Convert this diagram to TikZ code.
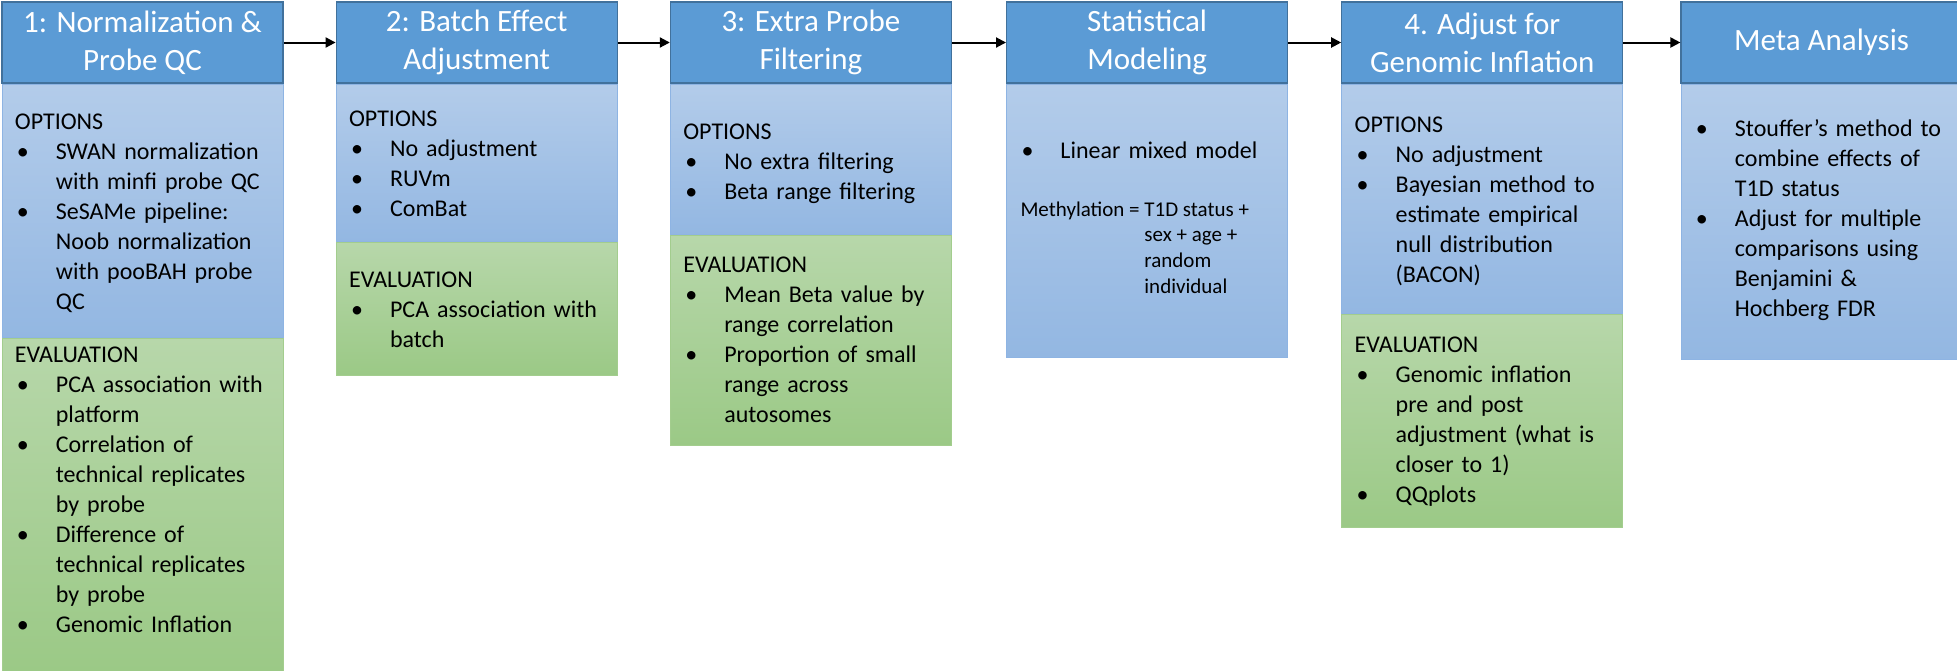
\documentclass[tikz,border=0pt]{standalone}
\usepackage{fontspec}
\setmainfont{Carlito}
\usetikzlibrary{arrows.meta, positioning}
\definecolor{headBlue}{HTML}{5B9BD5}
\definecolor{headEdge}{HTML}{41719C}
\definecolor{optTop}{HTML}{B3CCEA}
\definecolor{optBot}{HTML}{93B7E2}
\definecolor{optEdge}{HTML}{8EB4E3}
\definecolor{evalTop}{HTML}{B7D7AA}
\definecolor{evalBot}{HTML}{9BC986}
\definecolor{evalEdge}{HTML}{A3CD8E}
\newcommand{\bitem}[1]{\noindent\hangindent=20.5pt\hangafter=1\hbox to 20.5pt{\hskip1pt\textbullet\hfil}#1\par}

\begin{document}
\begin{tikzpicture}[
    x=0.5pt, y=-0.5pt,
    node distance=26pt,
    head/.style={rectangle, draw=headEdge, fill=headBlue, line width=0.6pt,
                 minimum width=140.5pt, minimum height=40.5pt, inner sep=2pt,
                 font=\fontsize{15.5}{19}\selectfont, text=white, align=center},
    opts/.style={rectangle, draw=optEdge, top color=optTop, bottom color=optBot,
                 line width=0.5pt, minimum width=140.5pt, inner sep=0pt},
    evals/.style={rectangle, draw=evalEdge, top color=evalTop, bottom color=evalBot,
                  line width=0.5pt, minimum width=140.5pt, inner sep=0pt},
    body/.style={anchor=base west, inner sep=0pt, text width=140pt, align=left,
                 font=\fontsize{12}{15}\selectfont},
    flow/.style={-{Triangle[length=5pt,width=5pt]}, line width=1pt},
  ]
    \useasboundingbox (0,0) rectangle (1957,670);

    % step headers
    \node[head] (h1) at (142.5,42.5) {1: Normalization \&\\Probe QC};
    \node[head, right=26pt of h1] (h2) {2: Batch Effect\\Adjustment};
    \node[head, right=26pt of h2] (h3) {3: Extra Probe\\Filtering};
    \node[head, right=27pt of h3] (h4) {Statistical\\Modeling};
    \node[head, right=26.5pt of h4] (h5) {4. Adjust for\\Genomic Inflation};
    \node[head, right=28.5pt of h5] (h6) {Meta Analysis};

    % option and evaluation panels
    \node[opts, minimum height=126.5pt, below=0pt of h1] (o1) {};
    \node[evals, minimum height=166.5pt, below=0pt of o1] (e1) {};
    \node[opts, minimum height=78.5pt, below=0pt of h2] (o2) {};
    \node[evals, minimum height=66.5pt, below=0pt of o2] (e2) {};
    \node[opts, minimum height=75pt, below=0pt of h3] (o3) {};
    \node[evals, minimum height=105pt, below=0pt of o3] (e3) {};
    \node[opts, minimum height=136.5pt, below=0pt of h4] (o4) {};
    \node[opts, minimum height=114.5pt, below=0pt of h5] (o5) {};
    \node[evals, minimum height=106.5pt, below=0pt of o5] (e5) {};
    \node[opts, minimum height=137.5pt, below=0pt of h6] (o6) {};

    % panel texts
    \node[body] (o1t) at ([xshift=6.5pt, yshift=-22.7pt]o1.north west) {OPTIONS\par
      \bitem{SWAN normalization\newline with minfi probe QC}
      \bitem{SeSAMe pipeline:\newline Noob normalization\newline with pooBAH probe\newline QC}};
    \node[body] (e1t) at ([xshift=6.5pt, yshift=-12.2pt]e1.north west) {EVALUATION\par
      \bitem{PCA association with\newline platform}
      \bitem{Correlation of\newline technical replicates\newline by probe}
      \bitem{Difference of\newline technical replicates\newline by probe}
      \bitem{Genomic Inflation}};
    \node[body] (o2t) at ([xshift=6.5pt, yshift=-21.2pt]o2.north west) {OPTIONS\par
      \bitem{No adjustment}
      \bitem{RUVm}
      \bitem{ComBat}};
    \node[body] (e2t) at ([xshift=6.5pt, yshift=-22.7pt]e2.north west) {EVALUATION\par
      \bitem{PCA association with\newline batch}};
    \node[body] (o3t) at ([xshift=6.5pt, yshift=-27.7pt]o3.north west) {OPTIONS\par
      \bitem{No extra filtering}
      \bitem{Beta range filtering}};
    \node[body] (e3t) at ([xshift=6.5pt, yshift=-18.7pt]e3.north west) {EVALUATION\par
      \bitem{Mean Beta value by\newline range correlation}
      \bitem{Proportion of small\newline range across\newline autosomes}};
    \node[body] (o4t) at ([xshift=6.5pt, yshift=-37.5pt]o4.north west) {%
      \bitem{Linear mixed model}};
    \node[anchor=base west, inner sep=0pt, font=\fontsize{10.5}{12.8}\selectfont] (eq)
      at ([xshift=7pt, yshift=-66.3pt]o4.north west)
      {\begin{tabular}[t]{@{}l@{\ }l@{}}Methylation =&T1D status +\\&sex + age +\\&random\\&individual\end{tabular}};
    \node[body] (o5t) at ([xshift=6.5pt, yshift=-24.2pt]o5.north west) {OPTIONS\par
      \bitem{No adjustment}
      \bitem{Bayesian method to\newline estimate empirical\newline null distribution\newline (BACON)}};
    \node[body] (e5t) at ([xshift=6.5pt, yshift=-19.2pt]e5.north west) {EVALUATION\par
      \bitem{Genomic inflation\newline pre and post\newline adjustment (what is\newline closer to 1)}
      \bitem{QQplots}};
    \node[body] (o6t) at ([xshift=6.5pt, yshift=-26.2pt]o6.north west) {%
      \bitem{Stouffer’s method to\newline combine effects of\newline T1D status}
      \bitem{Adjust for multiple\newline comparisons using\newline Benjamini \&\newline Hochberg FDR}};

    \foreach \a/\b in {h1/h2, h2/h3, h3/h4, h4/h5, h5/h6}{
      \draw[flow] (\a) -- (\b);
    }
  \end{tikzpicture}
\end{document}
